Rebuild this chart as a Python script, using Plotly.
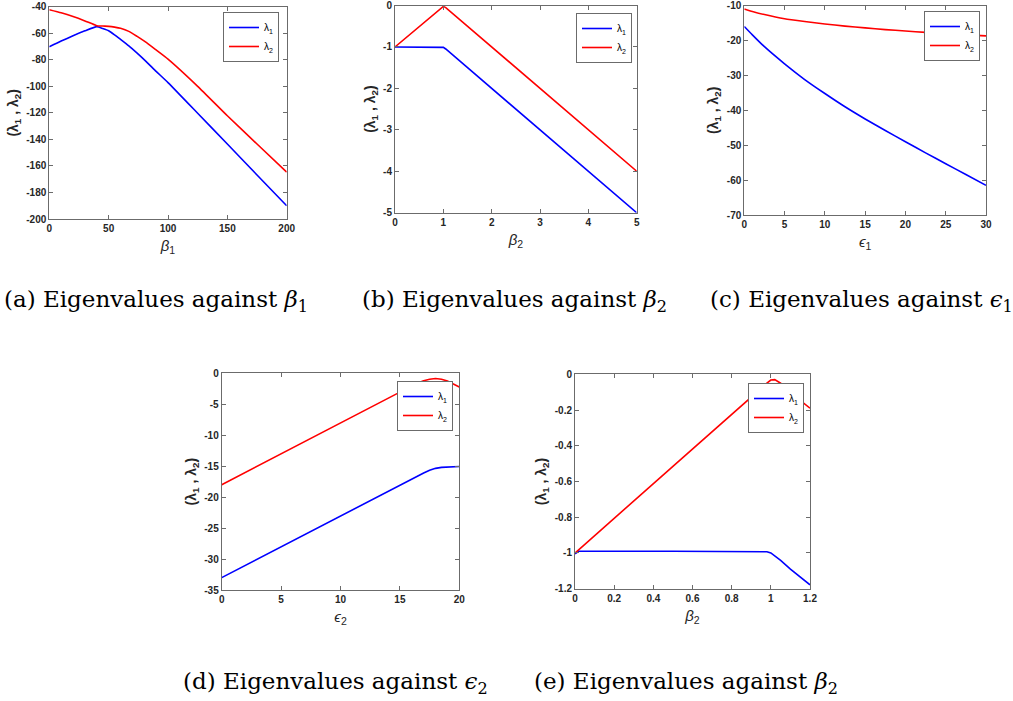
import plotly.graph_objects as go

# ---- (a) eigenvalues against beta_1 ----
beta1 = [0, 10, 20, 30, 40, 45, 50, 55, 60, 67, 74, 81, 90, 100, 125, 150, 175, 200]
lam1_a = [-70.2, -65.9, -61.9, -58.2, -55.0, -56.4, -58.1, -61.2, -64.6, -69.5, -75.0, -80.8,
          -88.7, -97.2, -120.3, -143.5, -166.8, -190.0]
lam2_a = [-42.3, -44.6, -47.4, -50.7, -54.3, -54.6, -54.8, -55.4, -56.3, -58.6, -62.4, -66.5,
          -72.6, -79.5, -100.0, -122.2, -143.5, -164.7]

# ---- (b) eigenvalues against beta_2 ----
beta2_b = [0, 0.5, 0.9, 0.95, 1.0, 1.05, 1.1, 2, 3, 4, 5]
lam1_b = [-1, -1, -1, -1.002, -1.01, -1.05, -1.1, -2, -3, -4, -5]
lam2_b = [-1, -0.5, -0.1, -0.05, -0.02, -0.05, -0.1, -1, -2, -3, -4]

# ---- (c) eigenvalues against epsilon_1 ----
eps1 = [0, 1, 2.5, 5, 7.5, 10, 12.5, 15, 17.5, 20, 22.5, 25, 27.5, 30]
lam1_c = [-16.0, -18.4, -21.8, -26.7, -31.2, -35.2, -39.0, -42.5, -45.8, -49.0, -52.2, -55.3,
          -58.4, -61.5]
lam2_c = [-11.0, -11.7, -12.6, -13.8, -14.6, -15.3, -15.9, -16.4, -16.9, -17.3, -17.7, -18.0,
          -18.4, -18.7]

# ---- (d) eigenvalues against epsilon_2 ----
eps2 = [0, 5, 10, 15, 16, 16.5, 17, 17.5, 18, 18.5, 19, 19.5, 20]
lam1_d = [-33, -28, -23, -18, -17, -16.55, -16.1, -15.65, -15.35, -15.2, -15.12, -15.08, -15.05]
lam2_d = [-18, -13, -8, -3, -2, -1.55, -1.2, -0.95, -0.85, -0.95, -1.25, -1.7, -2.2]

# ---- (e) eigenvalues against beta_2 (zoomed range) ----
beta2_e = [0, 0.02, 0.5, 0.95, 0.98, 1.0, 1.02, 1.05, 1.1, 1.15, 1.2]
lam1_e = [-1.005, -0.99, -0.99, -0.99, -0.993, -1.0, -1.015, -1.042, -1.09, -1.135, -1.178]
lam2_e = [-1.0, -0.981, -0.515, -0.075, -0.05, -0.032, -0.03, -0.05, -0.103, -0.146, -0.19]

# tick labels
ticks_a_x = [0, 50, 100, 150, 200]
ticks_a_y = [-200, -180, -160, -140, -120, -100, -80, -60, -40]
ticks_b_x = [0, 1, 2, 3, 4, 5]
ticks_b_y = [-5, -4, -3, -2, -1, 0]
ticks_c_x = [0, 5, 10, 15, 20, 25, 30]
ticks_c_y = [-70, -60, -50, -40, -30, -20, -10]
ticks_d_x = [0, 5, 10, 15, 20]
ticks_d_y = [-35, -30, -25, -20, -15, -10, -5, 0]
ticks_e_x = [0, 0.2, 0.4, 0.6, 0.8, 1.0, 1.2]
ticks_e_y = [-1.2, -1.0, -0.8, -0.6, -0.4, -0.2, 0]

captions = [
    "(a) Eigenvalues against <i>β</i><sub>1</sub>",
    "(b) Eigenvalues against <i>β</i><sub>2</sub>",
    "(c) Eigenvalues against <i>ϵ</i><sub>1</sub>",
    "(d) Eigenvalues against <i>ϵ</i><sub>2</sub>",
    "(e) Eigenvalues against <i>β</i><sub>2</sub>",
]
x_titles = ["<i>β</i><sub>1</sub>", "<i>β</i><sub>2</sub>", "<i>ϵ</i><sub>1</sub>",
            "<i>ϵ</i><sub>2</sub>", "<i>β</i><sub>2</sub>"]
y_title = "(λ<sub>1</sub> , λ<sub>2</sub>)"
names = ["λ<sub>1</sub>", "λ<sub>2</sub>"]

W, H = 1013, 701


def fx(p):
    return p / W


def fy(p):
    return 1 - p / H


def fmt(v):
    return "%g" % v


# smooth curves use a light spline; piecewise-straight ones stay linear
panels = [
    dict(x=beta1, l1=lam1_a, l2=lam2_a, tx=ticks_a_x, ty=ticks_a_y, shape="spline",
         box=(49.3, 6.7, 286.7, 219.0), leg=(279, 12)),
    dict(x=beta2_b, l1=lam1_b, l2=lam2_b, tx=ticks_b_x, ty=ticks_b_y, shape="linear",
         box=(395.0, 5.5, 636.7, 212.7), leg=(632, 13)),
    dict(x=eps1, l1=lam1_c, l2=lam2_c, tx=ticks_c_x, ty=ticks_c_y, shape="spline",
         box=(744.3, 5.5, 986.0, 215.0), leg=(980, 11)),
    dict(x=eps2, l1=lam1_d, l2=lam2_d, tx=ticks_d_x, ty=ticks_d_y, shape="linear",
         box=(221.7, 373.3, 459.3, 590.0), leg=(453, 381)),
    dict(x=beta2_e, l1=lam1_e, l2=lam2_e, tx=ticks_e_x, ty=ticks_e_y, shape="linear",
         box=(575.0, 374.3, 810.0, 588.7), leg=(804, 383)),
]

caption_pos = [(156, 301), (514, 301), (861, 301), (335, 683), (686, 683)]

fig = go.Figure()
layout = dict(
    width=W, height=H,
    margin=dict(l=0, r=0, t=0, b=0),
    paper_bgcolor="white", plot_bgcolor="white",
    annotations=[],
)

label_family = "Liberation Sans, Arial"
tick_font = dict(family=label_family, size=10, color="#262626", weight="bold")
axis_common = dict(showline=True, mirror="ticks", linecolor="#6b6b6b", linewidth=1,
                   ticks="inside", ticklen=4, tickcolor="#6b6b6b", showgrid=False,
                   zeroline=False, tickfont=tick_font, automargin=False, fixedrange=True,
                   ticklabeloverflow="allow")

for i, p in enumerate(panels):
    k = "" if i == 0 else str(i + 1)
    x0, y0, x1, y1 = p["box"]
    leg_name = "legend" + k
    for yv, color, nm in ((p["l1"], "#0000ff", names[0]), (p["l2"], "#ff0000", names[1])):
        line = dict(color=color, width=1.6, shape=p["shape"])
        if p["shape"] == "spline":
            line["smoothing"] = 0.5
        fig.add_trace(go.Scatter(
            x=p["x"], y=yv, mode="lines", name=nm, line=line,
            xaxis="x" + k, yaxis="y" + k, legend=leg_name, showlegend=True,
        ))
    layout["xaxis" + k] = dict(
        axis_common, domain=[fx(x0), fx(x1)], anchor="y" + k,
        range=[p["tx"][0], p["tx"][-1]],
        tickvals=p["tx"], ticktext=[fmt(v) for v in p["tx"]],
        title=dict(text=x_titles[i], standoff=7,
                   font=dict(family=label_family, size=15, color="#262626")),
    )
    layout["yaxis" + k] = dict(
        axis_common, domain=[fy(y1), fy(y0)], anchor="x" + k,
        range=[p["ty"][0], p["ty"][-1]],
        tickvals=p["ty"], ticktext=[fmt(v) for v in p["ty"]],
        title=dict(text=y_title, standoff=4,
                   font=dict(family=label_family, size=14, color="#262626",
                             weight="bold")),
    )
    lx, ly = p["leg"]
    layout[leg_name] = dict(
        x=fx(lx), y=fy(ly), xanchor="right", yanchor="top",
        bgcolor="white", bordercolor="#6b6b6b", borderwidth=1,
        font=dict(family=label_family, size=10, color="black"),
        itemwidth=30, tracegroupgap=0,
    )
    cx, cy = caption_pos[i]
    layout["annotations"].append(dict(
        text=captions[i], x=fx(cx), y=fy(cy), xref="paper", yref="paper",
        xanchor="center", yanchor="middle", showarrow=False,
        font=dict(family="DejaVu Serif", size=23, color="black"),
    ))

fig.update_layout(**layout)
fig.write_html("out.html")
